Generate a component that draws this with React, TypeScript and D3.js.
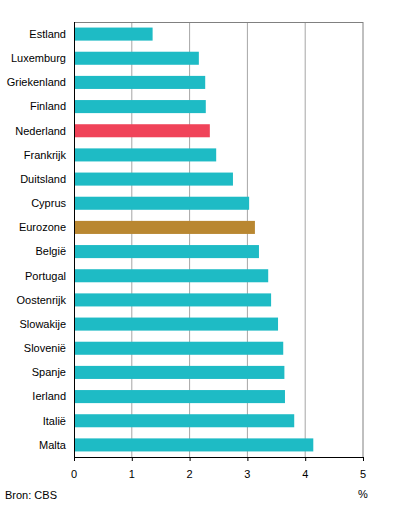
import React from "react";
import * as d3 from "d3";

const countries = [
  "Estland", "Luxemburg", "Griekenland", "Finland", "Nederland", "Frankrijk",
  "Duitsland", "Cyprus", "Eurozone", "België", "Portugal", "Oostenrijk",
  "Slowakije", "Slovenië", "Spanje", "Ierland", "Italië", "Malta",
];
const values = [
  1.36, 2.16, 2.27, 2.28, 2.35, 2.46, 2.75, 3.03, 3.13, 3.2, 3.36, 3.41,
  3.53, 3.62, 3.64, 3.65, 3.81, 4.14,
];
const ticks = [0, 1, 2, 3, 4, 5];

const width = 396;
const height = 506;
const margin = { top: 22, right: 33, bottom: 49, left: 74 };
const font = "Arial, 'Liberation Sans', sans-serif";

const barColor = (name: string) =>
  name === "Nederland" ? "#f04359" : name === "Eurozone" ? "#b98731" : "#1ebbc5";

const App = () => {
  const x = d3.scaleLinear().domain([0, 5]).range([margin.left, width - margin.right]);
  const y = d3
    .scaleBand()
    .domain(countries)
    .range([margin.top, height - margin.bottom])
    .paddingInner(0.46)
    .paddingOuter(0.23);
  const bottom = height - margin.bottom;

  return (
    <svg
      width={width}
      height={height}
      style={{ position: "absolute", left: 0, top: 0, fontFamily: font }}
    >
      {ticks.slice(1, -1).map((t) => (
        <line key={t} x1={x(t)} x2={x(t)} y1={margin.top} y2={bottom} stroke="#a6a6a6" />
      ))}
      <line x1={x(0)} x2={x(5)} y1={margin.top + 0.5} y2={margin.top + 0.5} stroke="#808080" />
      <line x1={x(5)} x2={x(5)} y1={margin.top} y2={bottom} stroke="#808080" />
      {countries.map((c, i) => (
        <g key={c}>
          <rect
            x={x(0)}
            y={y(c)}
            width={x(values[i]) - x(0)}
            height={y.bandwidth()}
            fill={barColor(c)}
          />
          <text
            x={x(0) - 8}
            y={(y(c) as number) + y.bandwidth() / 2}
            dy="0.35em"
            textAnchor="end"
            fontSize={11}
            fill="#000"
          >
            {c}
          </text>
        </g>
      ))}
      <line x1={x(0) + 0.5} x2={x(0) + 0.5} y1={margin.top} y2={bottom + 3} stroke="#000" />
      <line x1={x(0)} x2={x(5) + 0.5} y1={bottom + 0.5} y2={bottom + 0.5} stroke="#000" />
      {ticks.map((t) => (
        <g key={t}>
          <line x1={x(t) + 0.5} x2={x(t) + 0.5} y1={bottom} y2={bottom + 4} stroke="#000" />
          <text x={x(t)} y={bottom + 17} dy="0.35em" textAnchor="middle" fontSize={11}>
            {t}
          </text>
        </g>
      ))}
      <text x={x(5)} y={494} dy="0.35em" textAnchor="middle" fontSize={11}>
        %
      </text>
      <text x={5} y={495} dy="0.35em" fontSize={11}>
        Bron: CBS
      </text>
    </svg>
  );
};

export default App;
